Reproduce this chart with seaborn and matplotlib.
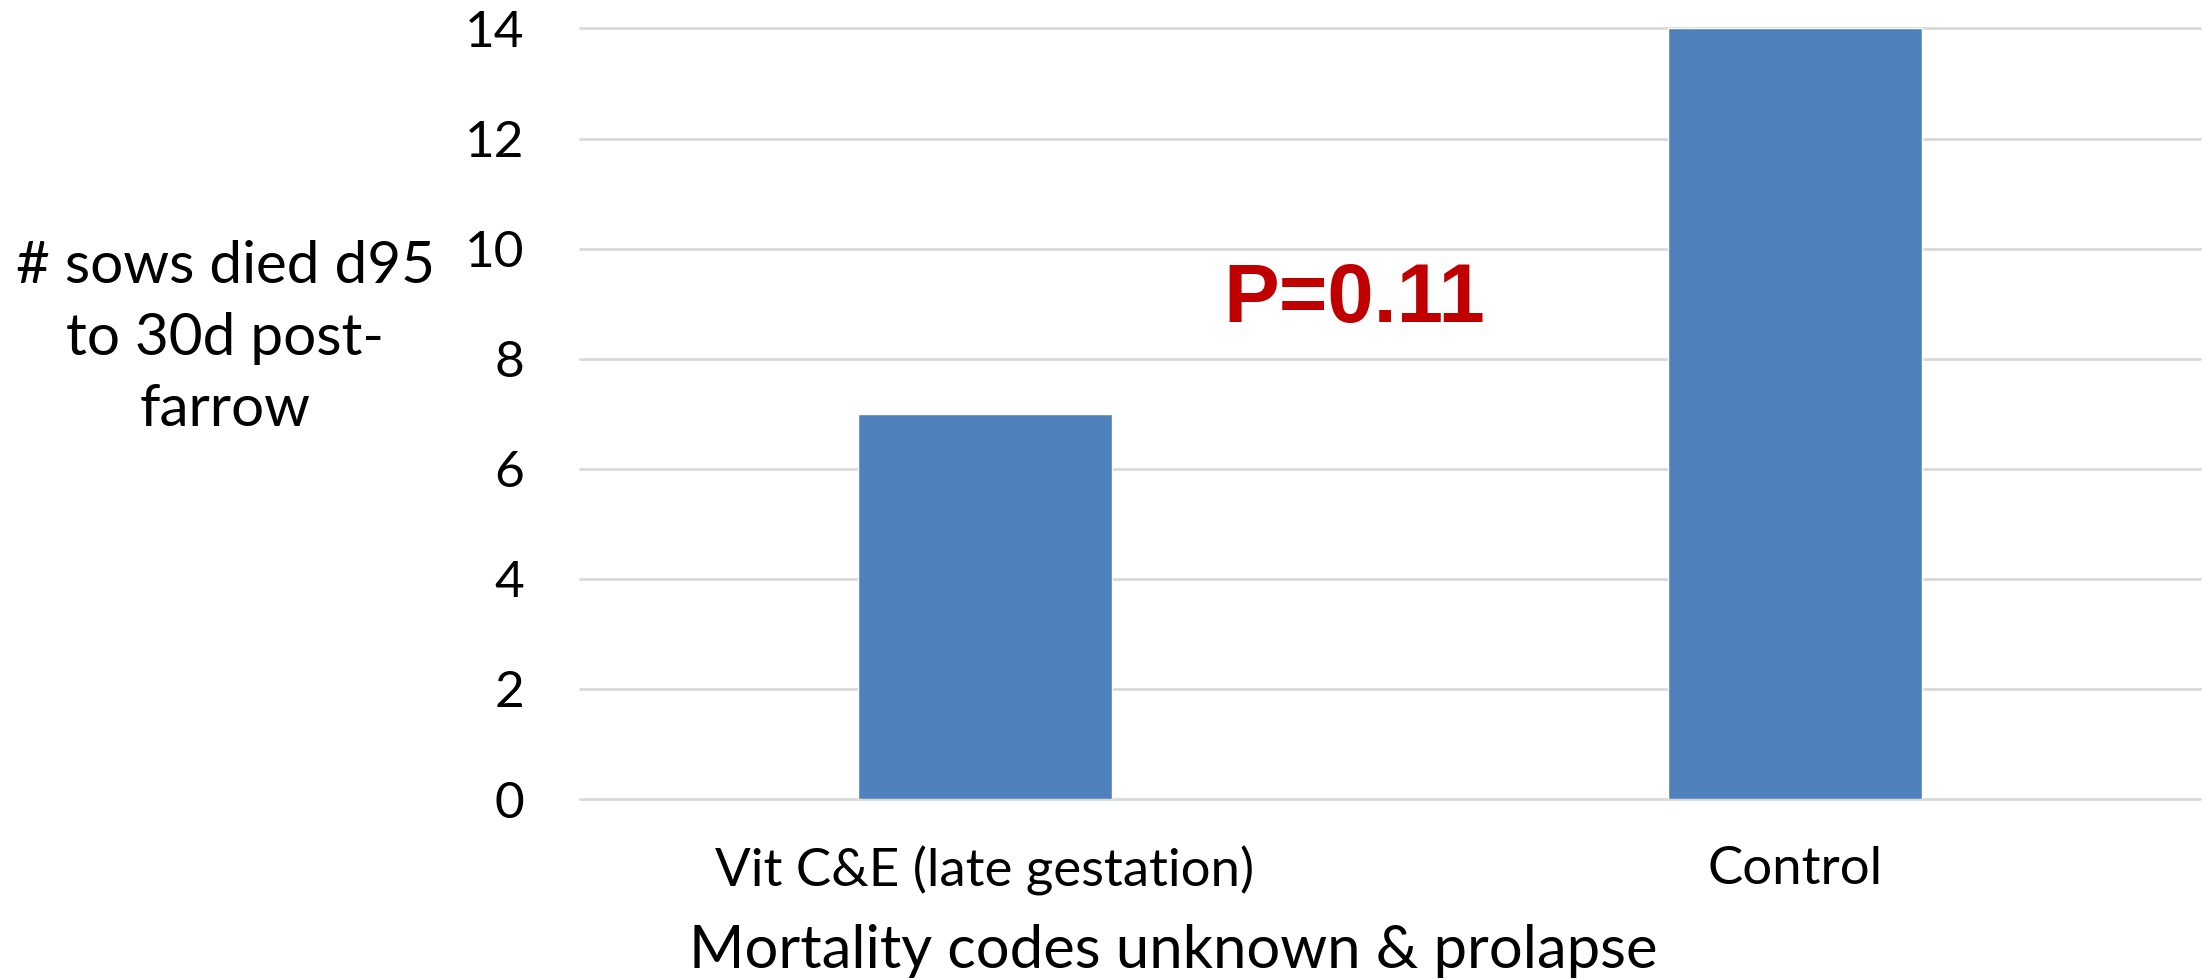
import matplotlib
matplotlib.use("Agg")
import matplotlib.pyplot as plt
import seaborn as sns
import pandas as pd

categories = ["Vit C&E (late gestation)", "Control"]
values = [7, 14]
y_ticks = [0, 2, 4, 6, 8, 10, 12, 14]
x_label = "Mortality codes unknown & prolapse"
y_label = "# sows died d95\nto 30d post-\nfarrow"
annotation = "P=0.11"

sns.set_theme(style="white")
plt.rcParams["font.family"] = ["Lato", "DejaVu Sans"]

df = pd.DataFrame({"group": categories, "n": values})

fig = plt.figure(figsize=(22.05, 9.8), dpi=100)
ax = fig.add_axes([580 / 2205, 1 - 799 / 980, 1620 / 2205, (799 - 28.5) / 980])

sns.barplot(data=df, x="group", y="n", color="#4F81BD", width=0.313,
            saturation=1, ax=ax, zorder=3)

ax.set_ylim(0, 14)
ax.set_xlim(-0.5, 1.5)
ax.set_yticks(y_ticks)
ax.set_yticklabels([str(t) for t in y_ticks])
ax.yaxis.grid(True, color="#D9D9D9", linewidth=2)
for gl in ax.get_ygridlines():
    gl.set_clip_on(False)
ax.set_axisbelow(True)
for s in ax.spines.values():
    s.set_visible(False)
ax.tick_params(axis="y", length=0, pad=40, labelsize=37, labelcolor="black")
ax.tick_params(axis="x", length=0, pad=34, labelsize=38, labelcolor="black")
ax.set_xlabel("")
ax.set_ylabel("")

fig.text(1173 / 2205, 1 - 951 / 980, x_label, ha="center", va="center",
         fontsize=43, color="black")

fig.text(225 / 2205, 1 - 338 / 980, y_label, ha="center", va="center",
         multialignment="center", fontsize=42, linespacing=1.42, color="black")

ax.text(0.456, 9.07, annotation, ha="center", va="center", fontsize=60,
        fontweight="bold", color="#C00000", family="Liberation Sans", zorder=4)

fig.savefig("out.png", dpi=100, facecolor="white")
